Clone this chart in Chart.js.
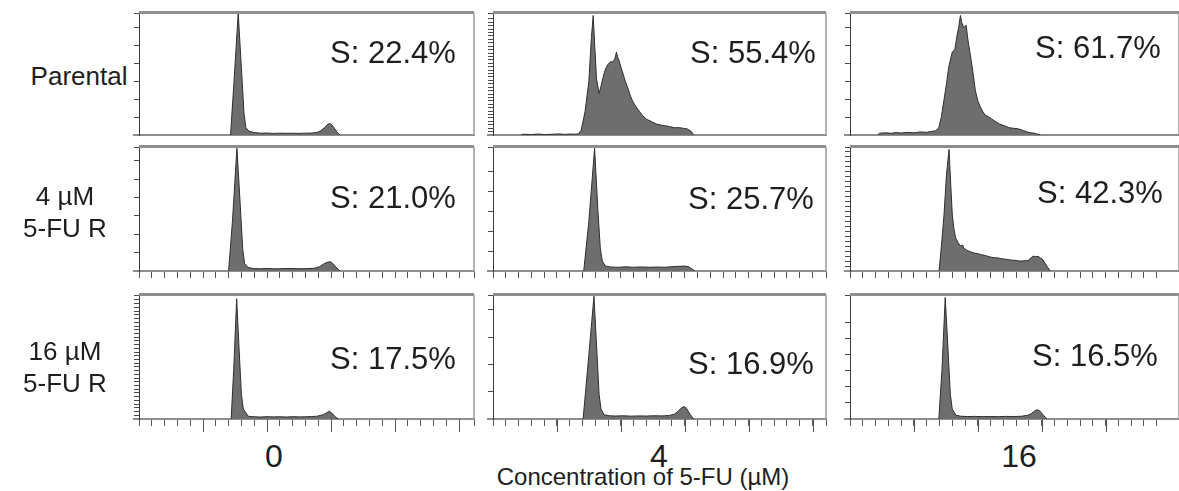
<!DOCTYPE html>
<html>
<head>
<meta charset="utf-8">
<script src="https://cdn.jsdelivr.net/npm/chart.js"></script>
<style>
  body { margin: 0; background: #fff; width: 1179px; height: 491px; position: relative; overflow: hidden;
         font-family: 'Liberation Sans', Arial, sans-serif; color: #1e1e1e; }
  .panel { position: absolute; }
  .lbl { position: absolute; white-space: nowrap; line-height: 1; }
</style>
</head>
<body>
<script>
// ---- data ----
const rowLabels = [['Parental'], ['4 µM', '5-FU R'], ['16 µM', '5-FU R']];
const colLabels = ['0', '4', '16'];
const axisTitle = 'Concentration of 5-FU (µM)';
const sPhase = [['22.4', '55.4', '61.7'], ['21.0', '25.7', '42.3'], ['17.5', '16.9', '16.5']];

// DNA content histograms: [channel, % of peak]
const parental0 = [[71.5,0],[74,40],[77.5,100],[80,55],[82,18],[83.5,6],[86,3],[90,2],[95,1.5],[100,1.6],[105,1.3],[110,1.5],[115,1.4],[120,1.5],[125,1.3],[130,1.5],[135,1.6],[139,2],[142,3.5],[145,6],[147,8.5],[149,9.5],[151,8],[153,5],[155,2],[157,0]];
const parental4 = [[22,0],[23,0.6],[30,0.4],[36,0.8],[40,0.3],[46,0.6],[52,0.9],[56,0.5],[60,0.8],[64,0.6],[67,1],[69,4],[72,19],[75,44],[77,80],[78.4,98],[79.5,75],[81,46],[83,34],[84.5,40],[86.5,49],[88,54],[90,58],[92,60],[94,60],[95.5,63],[96.6,68],[97.5,64],[98.6,61],[100,56],[101.8,50],[103.5,44],[105.7,38],[107.5,32],[109.6,27],[112,23],[114.8,19],[117,16],[120,13],[124,11],[127.8,9],[132,8],[135,7.5],[138,7],[142,6],[146,6],[149,5.5],[152,5],[155,3],[157,0]];
const parental16 = [[22,0],[23,1.5],[28,1.8],[32,1.4],[36,2],[40,1.6],[45,2.2],[50,1.8],[55,2.5],[60,2.2],[64,3],[67,3.5],[69.5,6],[71.5,15],[73.4,28],[75.5,42],[77.3,56],[80,68],[82,70],[83.8,82],[85,88],[86.4,98],[87.5,92],[89,88],[90.9,90],[92,80],[93,73],[95.6,56],[98,37],[100,28],[102,23],[104,19],[106,16],[108.5,15],[111,13],[114,11],[117,9],[121,7.5],[124.4,6],[128,5.5],[132,5],[136,3.5],[140,2],[144,1.5],[149,0]];
const res4_0 = [[70,0],[73,40],[76.5,99],[79,55],[81,18],[82.5,6],[85,3],[89,2],[95,1.8],[100,2],[105,1.8],[110,1.8],[115,2],[120,2],[125,1.8],[130,1.9],[137,2.2],[141,3.5],[144,5.5],[147,7],[149,7.5],[151,6.5],[154,3],[157,0]];
const res4_4 = [[71,0],[75,40],[79.5,99],[82,50],[84,18],[85.5,8],[88,4],[92,3.2],[98,3],[104,3.4],[110,3],[116,3.3],[122,3],[128,3.2],[134,3],[140,3.5],[146,3.8],[150,4],[153,3.5],[156,1.5],[158,0]];
const res4_16 = [[69.7,0],[71.5,20],[73.6,46],[75.5,78],[77.5,98],[78.8,70],[80,46],[81.3,34],[82.6,27],[84.5,23],[86.5,20],[88,21],[89,18.5],[91,17],[94,15.6],[97,14.5],[100,14],[102,13.4],[106,12.5],[109,11.5],[112,10.8],[116,10.5],[119,9.8],[122.5,9.4],[126,8.8],[130,8.5],[133,8],[137,8.2],[139.5,8.6],[141.5,10.5],[143.4,12],[145.5,11.5],[147.3,11.8],[149,10.5],[150.8,9.4],[152.5,6.5],[154,4],[156.6,0]];
const res16_0 = [[72,0],[74,40],[76.3,97],[78.5,50],[80,20],[81.5,8],[85.4,2.2],[90,1.8],[95,1.6],[100,1.9],[105,1.7],[110,1.8],[115,1.6],[120,1.9],[125,1.7],[130,1.8],[135,2],[139,2.2],[144,3.5],[146.5,5],[148.7,6.3],[151,4.5],[153,2],[155.7,0]];
const res16_4 = [[70.5,0],[74,40],[79,99],[81.5,50],[83,20],[84.5,8],[87,3.5],[91,2.6],[96,2.4],[102,2.6],[108,2.3],[114,2.5],[120,2.4],[126,2.6],[132,2.5],[138,2.8],[142,4],[145,6.5],[147.5,9],[149.5,10],[151.5,8.5],[154,4],[157,0]];
const res16_16 = [[69.5,0],[72,40],[74.5,98],[77,50],[78.5,20],[80,8],[83,3],[87,2.2],[92,2],[98,2.1],[104,1.9],[110,2],[116,1.9],[122,2.1],[128,2],[134,2.2],[139,3],[142,4.5],[144.5,6.5],[146.5,7.5],[148.5,6.5],[151,3.5],[154,0]];

const histograms = [[parental0, parental4, parental16], [res4_0, res4_4, res4_16], [res16_0, res16_4, res16_16]];

// ---- layout ----
const colLeft = [139, 492.5, 849.5];
const colWidth = [335, 333.5, 329.5];
const rowTop = [13, 147, 295];
const rowHeight = [122, 124, 124];
const yTickStep = [[14.7, 2.8, 14.7], [14.8, 16, 4], [3, 22, 13]];
const sPos = [[[330, 63], [690, 63], [1035, 58]], [[330, 208], [688, 209], [1037, 203]], [[330, 369], [688, 374], [1032, 366]]];
const rowLabelPos = [[79, [85]], [65, [205, 237]], [65, [360, 392]]];
const colLabelX = [274, 659, 1019];

const PAD_L = 3, PAD_T = 3, PAD_R = 2, Y_TICK = 5, X_TICK = 7;

function addText(txt, x, baseline, size, center) {
  const d = document.createElement('div');
  d.className = 'lbl';
  d.textContent = txt;
  d.style.fontSize = size + 'px';
  d.style.left = x + 'px';
  d.style.top = (baseline - 0.8465 * size) + 'px';
  if (center) d.style.transform = 'translateX(-50%)';
  document.body.appendChild(d);
}

const framePlugin = {
  id: 'frame',
  afterDraw(chart, args, opts) {
    const { ctx, chartArea: a, scales: { x } } = chart;
    ctx.save();
    // top border
    ctx.strokeStyle = '#8e8e8e';
    ctx.lineWidth = 3;
    ctx.beginPath(); ctx.moveTo(a.left, a.top - 0.5); ctx.lineTo(a.right, a.top - 0.5); ctx.stroke();
    // right border
    ctx.lineWidth = 1.5;
    ctx.strokeStyle = '#9a9a9a';
    ctx.beginPath(); ctx.moveTo(a.right, a.top); ctx.lineTo(a.right, a.bottom); ctx.stroke();
    // bottom axis extends a little to the left
    ctx.lineWidth = 2;
    ctx.strokeStyle = '#8e8e8e';
    ctx.beginPath(); ctx.moveTo(a.left - 6, a.bottom); ctx.lineTo(a.left, a.bottom); ctx.stroke();
    // longer ticks every 50 channels on the bottom row
    if (opts.longTicks) {
      ctx.lineWidth = 1;
      ctx.strokeStyle = '#555';
      x.ticks.forEach(t => {
        if (t.value > 0 && t.value % 50 === 0) {
          const px = Math.round(x.getPixelForValue(t.value)) + 0.5;
          ctx.beginPath(); ctx.moveTo(px, a.bottom); ctx.lineTo(px, a.bottom + X_TICK + 6); ctx.stroke();
        }
      });
    }
    ctx.restore();
  }
};

for (let r = 0; r < 3; r++) {
  for (let c = 0; c < 3; c++) {
    const ticksBelow = r > 0;
    const padB = ticksBelow ? 8 : 3;
    const w = colWidth[c] + PAD_L + Y_TICK + PAD_R;
    const h = rowHeight[r] + PAD_T + (ticksBelow ? X_TICK : 0) + padB;
    const box = document.createElement('div');
    box.className = 'panel';
    box.style.left = (colLeft[c] - PAD_L - Y_TICK) + 'px';
    box.style.top = (rowTop[r] - PAD_T) + 'px';
    box.style.width = w + 'px';
    box.style.height = h + 'px';
    const cv = document.createElement('canvas');
    cv.width = w; cv.height = h;
    box.appendChild(cv);
    document.body.appendChild(box);

    new Chart(cv.getContext('2d'), {
      type: 'line',
      data: {
        datasets: [{
          data: histograms[r][c].map(p => ({ x: p[0], y: p[1] })),
          fill: 'origin',
          backgroundColor: '#6e6e6e',
          borderColor: '#2e2e2e',
          borderWidth: 1,
          pointRadius: 0,
          tension: 0
        }]
      },
      options: {
        responsive: false,
        animation: false,
        layout: { padding: { left: PAD_L, top: PAD_T, right: PAD_R, bottom: padB } },
        plugins: { legend: { display: false }, tooltip: { enabled: false }, frame: { longTicks: r === 2 } },
        scales: {
          x: {
            type: 'linear', min: 0, max: colWidth[c] / 1.28,
            ticks: { display: false, stepSize: 10 },
            grid: { drawOnChartArea: false, drawTicks: ticksBelow, tickLength: X_TICK, color: '#555', lineWidth: 1 },
            border: { display: true, color: '#8e8e8e', width: 2 }
          },
          y: {
            min: 0, max: 100,
            ticks: { display: false, stepSize: yTickStep[r][c] },
            grid: { drawOnChartArea: false, tickLength: Y_TICK, color: '#4a4a4a', lineWidth: 1 },
            border: { display: true, color: '#3a3a3a', width: 1 }
          }
        }
      },
      plugins: [framePlugin]
    });

    const [sx, sy] = sPos[r][c];
    addText('S: ' + sPhase[r][c] + '%', sx, sy, 31, false);
  }
  const [lx, bases] = rowLabelPos[r];
  rowLabels[r].forEach((t, i) => addText(t, lx, bases[i], 26, true));
}

colLabels.forEach((t, i) => addText(t, colLabelX[i], 467, 32, true));
addText(axisTitle, 643, 485, 24, true);
</script>
</body>
</html>
